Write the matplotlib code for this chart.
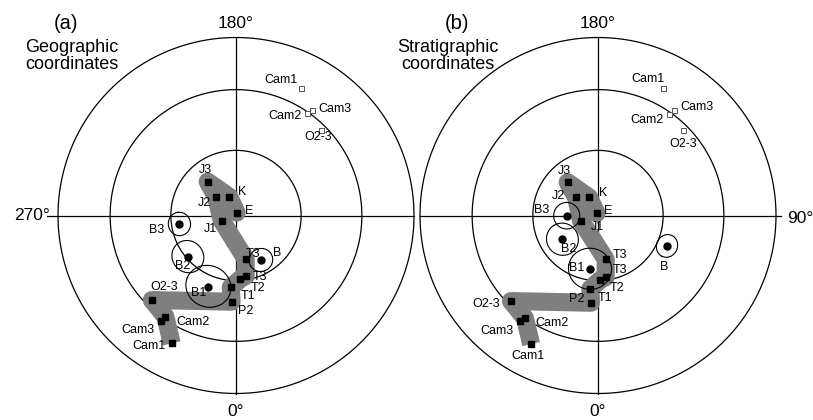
import numpy as np
import matplotlib
matplotlib.use("Agg")
import matplotlib.pyplot as plt

plt.rcParams['font.family'] = ['Liberation Sans', 'DejaVu Sans']

# site directions (declination, inclination), lower hemisphere
site_names = ["J3", "J2", "K", "E", "J1", "T3", "T3", "T2", "T1", "P2", "O2-3", "Cam2", "Cam3", "Cam1"]
geo_dec = [219.9, 226.8, 199.6, 166.0, 290.0, 12.5, 9.1, 3.9, 355.8, 357.1, 315.1, 325.1, 324.4, 333.3]
geo_inc = [69.8, 77.5, 80.9, 88.7, 83.1, 69.5, 61.8, 60.7, 56.8, 49.9, 33.4, 31.3, 28.1, 20.7]
strat_dec = [222.4, 230.4, 206.3, 210.6, 287.9, 10.0, 7.1, 1.8, 354.0, 355.4, 314.5, 324.6, 323.5, 332.5]
strat_inc = [69.4, 77.0, 80.7, 88.8, 81.9, 69.6, 61.4, 60.3, 55.9, 49.3, 32.0, 29.9, 27.2, 19.7]

# upper hemisphere (open squares)
up_names = ["Cam1", "Cam3", "Cam2", "O2-3"]
geo_up_dec = [152.9, 144.1, 145.3, 135.2]
geo_up_inc = [-20.9, -27.7, -30.8, -32.8]
strat_up_dec = [153.0, 144.1, 144.9, 135.3]
strat_up_inc = [-20.9, -27.7, -31.0, -32.9]

# mean directions with alpha95
mean_names = ["B3", "B2", "B1", "B"]
geo_mean_dec = [278.5, 310.5, 338.7, 29.3]
geo_mean_inc = [63.7, 60.8, 54.7, 66.6]
geo_a95 = [5.2, 7.3, 9.9, 5.3]
strat_mean_dec = [270.4, 303.7, 351.5, 66.2]
strat_mean_inc = [75.7, 70.4, 65.2, 55.1]
strat_a95 = [6.0, 7.3, 9.6, 5.0]

# path of the grey band (indices into site lists)
band_main = [0, 1, 4, 5, 6, 7, 8, 9, 10, 11, 13]
band_branch = [0, 2, 3]

ref_inc = [60, 30, 0]


def project(dec, inc):
    dec = np.radians(np.asarray(dec, dtype=float))
    inc = np.radians(np.abs(np.asarray(inc, dtype=float)))
    r = np.sqrt(2) * np.sin((np.pi / 2 - inc) / 2)
    return r * np.sin(dec), -r * np.cos(dec)


def small_circle(dec, inc, a95, n=181):
    d, i, a = np.radians(dec), np.radians(inc), np.radians(a95)
    m = np.array([np.cos(i) * np.cos(d), np.cos(i) * np.sin(d), np.sin(i)])
    u = np.cross(m, [0, 0, 1.0])
    u /= np.linalg.norm(u)
    w = np.cross(m, u)
    t = np.linspace(0, 2 * np.pi, n)
    v = np.cos(a) * m[:, None] + np.sin(a) * (np.cos(t) * u[:, None] + np.sin(t) * w[:, None])
    dd = np.degrees(np.arctan2(v[1], v[0]))
    ii = np.degrees(np.arcsin(np.clip(v[2], -1, 1)))
    return project(dd, ii)


# label offsets in pixels (dx, dy down)
site_off = {
    "geo": [(-2, -12), (-12, 6), (13, -5), (12, -2), (-11, 8), (7, -5), (14, 1), (18, 9),
            (17, 9), (14, 9), (12, -13), (28, 5), (-23, 9), (-23, 3)],
    "strat": [(-3, -11), (-18, -1), (14, -4), (11, -2), (16, 6), (14, -4), (14, -7), (17, 8),
              (15, 9), (-14, -4), (-25, 3), (27, 5), (-23, 10), (-3, 12)],
}
up_off = {
    "geo": [(-20, -8), (23, -1), (-22, 3), (-3, 7)],
    "strat": [(-15, -9), (23, -3), (-22, 6), (1, 14)],
}
mean_off = {
    "geo": [(-23, 6), (-5, 9), (-10, 6), (16, -7)],
    "strat": [(-25, -6), (6, 10), (-13, -1), (-3, 21)],
}

R = 178.0
band_color = "#7f7f7f"
fig = plt.figure(figsize=(8.13, 4.2), dpi=100)
ax = fig.add_axes([0, 0, 1, 1])
ax.set_xlim(-236 / R, 577 / R)
ax.set_ylim(-204.5 / R, 215.5 / R)
ax.axis("off")

panels = [
    ("geo", 0.0, "(a)", "Geographic\ncoordinates", geo_dec, geo_inc, geo_up_dec, geo_up_inc,
     geo_mean_dec, geo_mean_inc, geo_a95),
    ("strat", 362 / R, "(b)", "Stratigraphic\ncoordinates", strat_dec, strat_inc, strat_up_dec,
     strat_up_inc, strat_mean_dec, strat_mean_inc, strat_a95),
]

t = np.linspace(0, 2 * np.pi, 361)
for key, x0, tag, title, dec, inc, udec, uinc, mdec, minc, a95 in panels:
    # reference circles and cross
    for ri in ref_inc:
        rx, ry = project(np.degrees(t), np.full_like(t, ri))
        ax.plot(rx + x0, ry, color="black", lw=0.9, zorder=1)
    if key == "geo":
        ax.plot([x0 - 1.062, x0 + 1.0], [0, 0], color="black", lw=0.9, zorder=1)
        ax.text(x0 - 1.045, 0.0, "270°", fontsize=12.5, ha="right", va="center")
    else:
        ax.plot([x0 - 1.0, x0 + 1.03], [0, 0], color="black", lw=0.9, zorder=1)
        ax.text(x0 + 1.062, -0.015, "90°", fontsize=12.5, ha="left", va="center")
    ax.plot([x0, x0], [-1, 1], color="black", lw=0.9, zorder=1)
    ax.text(x0, 1.081, "180°", fontsize=12.5, ha="center", va="center")
    ax.text(x0, -1.102, "0°", fontsize=12.5, ha="center", va="center")
    if key == "geo":
        ax.text(x0 - 0.955, 1.081, tag, fontsize=14.5, ha="center", va="center")
        ax.text(x0 - 0.92, 0.896, title, fontsize=13, ha="center", va="center", linespacing=0.95)
    else:
        ax.text(x0 - 0.79, 1.081, tag, fontsize=14.5, ha="center", va="center")
        ax.text(x0 - 0.845, 0.896, title, fontsize=13, ha="center", va="center", linespacing=0.95)

    px, py = project(dec, inc)
    px = px + x0
    # grey band
    ax.plot(px[band_main], py[band_main], color=band_color, lw=13,
            solid_joinstyle="round", solid_capstyle="butt", zorder=2)
    ax.plot(px[band_branch], py[band_branch], color=band_color, lw=13,
            solid_joinstyle="round", solid_capstyle="round", zorder=2)

    ax.plot(px, py, "s", ms=4, color="black", zorder=4)
    for k, name in enumerate(site_names):
        dx, dy = site_off[key][k]
        ax.annotate(name, (px[k], py[k]), xytext=(dx, -dy), textcoords="offset pixels",
                    ha="center", va="center", fontsize=9, zorder=5)

    ux, uy = project(udec, uinc)
    ux = ux + x0
    ax.plot(ux, uy, "s", ms=3.6, mfc="white", mec="#555555", mew=0.7, zorder=4)
    for k, name in enumerate(up_names):
        dx, dy = up_off[key][k]
        ax.annotate(name, (ux[k], uy[k]), xytext=(dx, -dy), textcoords="offset pixels",
                    ha="center", va="center", fontsize=9, zorder=5)

    mx, my = project(mdec, minc)
    mx = mx + x0
    for k in range(len(mean_names)):
        cx, cy = small_circle(mdec[k], minc[k], a95[k])
        ax.plot(cx + x0, cy, color="black", lw=0.8, zorder=3)
    ax.plot(mx, my, "o", ms=5, color="black", zorder=4)
    for k, name in enumerate(mean_names):
        dx, dy = mean_off[key][k]
        ax.annotate(name, (mx[k], my[k]), xytext=(dx, -dy), textcoords="offset pixels",
                    ha="center", va="center", fontsize=9, zorder=5)

fig.savefig("out.png", dpi=100)
